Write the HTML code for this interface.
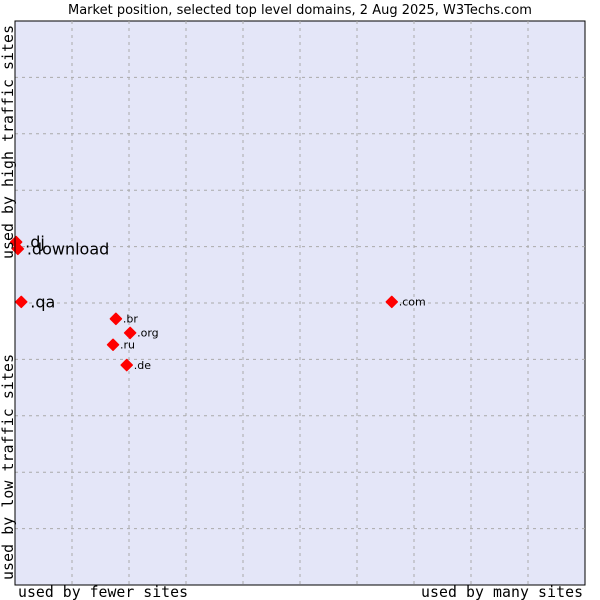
<!DOCTYPE html>
<html><head><meta charset="utf-8"><style>
body{margin:0;background:#fff;}
svg{display:block;font-family:"DejaVu Sans","Liberation Sans",sans-serif;}
</style></head><body>
<svg id="chart" width="600" height="600">
<text x="300" y="14" text-anchor="middle" font-size="13" fill="#000">Market position, selected top level domains, 2 Aug 2025, W3Techs.com</text>
<rect x="15" y="21" width="570" height="564" fill="#e4e6f8" stroke="#000" stroke-width="1"/>
<g id="grid"></g>
<g id="pts"></g>
<text x="103" y="597" text-anchor="middle" font-family="'DejaVu Sans Mono',monospace" font-size="14.8" textLength="170">used by fewer sites</text>
<text x="502" y="597" text-anchor="middle" font-family="'DejaVu Sans Mono',monospace" font-size="14.8" textLength="162">used by many sites</text>
<text transform="translate(13,142) rotate(-90)" text-anchor="middle" font-family="'DejaVu Sans Mono',monospace" font-size="14.8" textLength="234">used by high traffic sites</text>
<text transform="translate(13,467) rotate(-90)" text-anchor="middle" font-family="'DejaVu Sans Mono',monospace" font-size="14.8" textLength="226">used by low traffic sites</text>
<line x1="15" y1="21" x2="15" y2="585" stroke="#000"/>
</svg>
<script>
const labels=[".dj",".download",".qa",".br",".org",".ru",".de",".com"];
const xValues=[0.2,0.5,1.1,17.7,20.2,17.2,19.6,66.1];
const yValues=[60.8,59.6,50.2,47.2,44.7,42.6,39.0,50.2];
const labelSizes=[16,16,16,11,11,11,11,11];
const L=15,R=585,T=21,B=585;
const sx=v=>L+v/100*(R-L);
const sy=v=>B-v/100*(B-T);
const ns="http://www.w3.org/2000/svg";
const grid=document.getElementById('grid');
for(let i=1;i<10;i++){
  const x=sx(i*10),y=sy(i*10);
  const a=document.createElementNS(ns,'line');
  
  
  a.setAttribute('x1',x);a.setAttribute('x2',x);a.setAttribute('y1',T);a.setAttribute('y2',B);
  a.setAttribute('stroke','#aaa');a.setAttribute('stroke-dasharray','3,4');
  grid.appendChild(a);
  const b=document.createElementNS(ns,'line');
  
  
  b.setAttribute('x1',L);b.setAttribute('x2',R);b.setAttribute('y1',y);b.setAttribute('y2',y);
  b.setAttribute('stroke','#aaa');b.setAttribute('stroke-dasharray','3,4');
  grid.appendChild(b);
}
const pts=document.getElementById('pts');
labels.forEach((lab,i)=>{
  const x=sx(xValues[i]),y=sy(yValues[i]);
  const p=document.createElementNS(ns,'path');
  
  
  p.setAttribute('d',`M${x-5.5},${y}L${x},${y-5.5}L${x+5.5},${y}L${x},${y+5.5}Z`);
  p.setAttribute('fill','#f00');
  p.setAttribute('stroke','#f00');
  p.setAttribute('stroke-linejoin','round');
  p.setAttribute('stroke-width','1.5');
  pts.appendChild(p);
  const t=document.createElementNS(ns,'text');
  
  
  t.setAttribute('x',x+(labelSizes[i]>12?9:7));
  t.setAttribute('y',y+labelSizes[i]*0.35);
  t.setAttribute('font-size',labelSizes[i]);
  t.textContent=lab;
  pts.appendChild(t);
});
</script>
</body></html>
